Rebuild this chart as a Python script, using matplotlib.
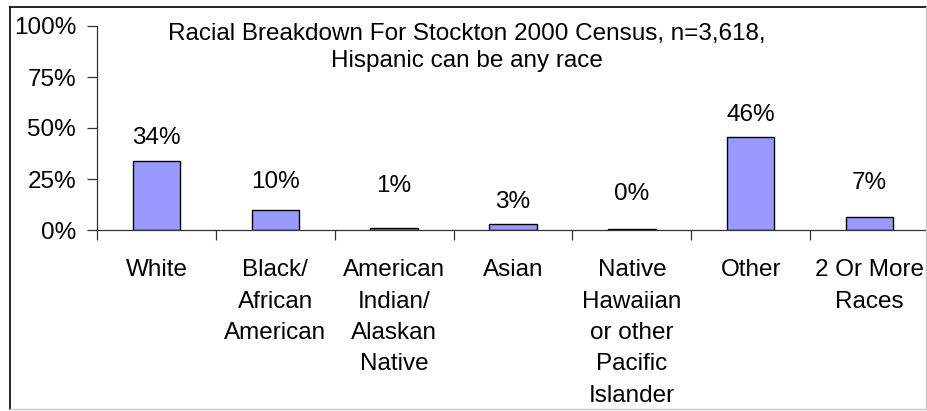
import matplotlib
matplotlib.use("Agg")
import matplotlib.pyplot as plt
from matplotlib.lines import Line2D
from matplotlib.ticker import FixedLocator, FuncFormatter

# data
categories = ["White", "Black/\nAfrican\nAmerican", "American\nIndian/\nAlaskan\nNative",
              "Asian", "Native\nHawaiian\nor other\nPacific\nIslander", "Other",
              "2 Or More\nRaces"]
shares = [33.6, 9.8, 0.8, 3.0, 0.3, 45.7, 6.6]
y_ticks = [0, 25, 50, 75, 100]
title_lines = ["Racial Breakdown For Stockton 2000 Census, n=3,618,",
               "Hispanic can be any race"]

# Excel places the value labels a bit unevenly, pixels above each bar top
label_lift = [23, 28, 42, 22, 35, 22, 34]

plt.rcParams['font.family'] = ['Liberation Sans', 'DejaVu Sans']
FS = 17.5

fig = plt.figure(figsize=(9.27, 4.11), dpi=100)
W, H = 927, 411

# outer chart-area border (left/top dark, right/bottom clipped grey)
fig.add_artist(Line2D([10 / W, 10 / W], [1 - 7 / H, 1 - 409 / H], color='black', lw=1.2))
fig.add_artist(Line2D([10 / W, 1], [1 - 7 / H, 1 - 7 / H], color='black', lw=1.2))
fig.add_artist(Line2D([926 / W, 926 / W], [1 - 7 / H, 1 - 409 / H], color='#c8c8c8', lw=1))
fig.add_artist(Line2D([10 / W, 926 / W], [1 - 409 / H, 1 - 409 / H], color='#c8c8c8', lw=1))

ax = fig.add_axes([97 / W, 1 - 230 / H, 832 / W, 204 / H])
ax.set_facecolor('none')

x = list(range(len(categories)))
bars = ax.bar(x, shares, width=0.4, color='#9999ff', edgecolor='black', linewidth=1)

for b, v, lift in zip(bars, shares, label_lift):
    ax.annotate(f"{v:.0f}%", (b.get_x() + b.get_width() / 2, v),
                xytext=(0, lift), textcoords='offset pixels',
                ha='center', va='center', fontsize=FS)

ax.set_xlim(-0.5, len(categories) - 0.5)
ax.set_ylim(0, 100)

for side in ['top', 'right']:
    ax.spines[side].set_visible(False)
ax.spines['left'].set_linewidth(0.9)
ax.spines['bottom'].set_linewidth(0.9)
ax.spines['left'].set_color('#333333')
ax.spines['bottom'].set_color('#333333')

ax.set_yticks(y_ticks)
ax.yaxis.set_major_formatter(FuncFormatter(lambda v, p: f"{v:.0f}%"))
ax.tick_params(axis='y', direction='out', length=7, width=0.9, color='#333333',
               pad=8, labelsize=FS)

# category labels between boundary ticks
ax.set_xticks(x)
ax.set_xticklabels(categories, fontsize=FS, linespacing=1.55)
ax.xaxis.set_minor_locator(FixedLocator([i - 0.5 for i in range(len(categories) + 1)]))
ax.tick_params(axis='x', which='major', length=0, pad=21)
ax.tick_params(axis='x', which='minor', direction='out', length=7, width=0.9, color='#333333')

fig.text(467 / W, 1 - 34 / H, title_lines[0], ha='center', va='center', fontsize=FS)
fig.text(467 / W, 1 - 61 / H, title_lines[1], ha='center', va='center', fontsize=FS)

fig.savefig("out.png", dpi=100)
